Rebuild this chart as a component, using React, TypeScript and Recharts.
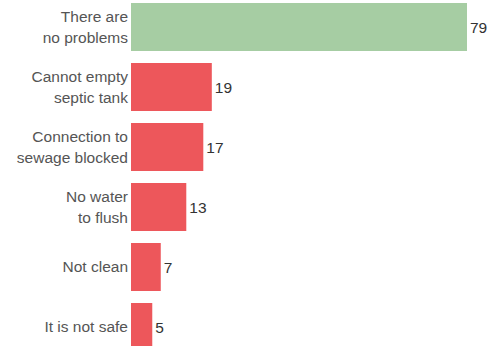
import { BarChart, Bar, XAxis, YAxis, Cell, LabelList } from "recharts";

const categories = [
  "There are\nno problems",
  "Cannot empty\nseptic tank",
  "Connection to\nsewage blocked",
  "No water\nto flush",
  "Not clean",
  "It is not safe",
];
const counts = [79, 19, 17, 13, 7, 5];
const barColors = ["#a6cda3", "#ed575b", "#ed575b", "#ed575b", "#ed575b", "#ed575b"];

const data = categories.map((name, i) => ({ name, value: counts[i] }));

const FONT = "'Liberation Sans', Arial, sans-serif";
const FS = 15.5;
const LH = 20.4;

function CategoryTick(props: any) {
  const { x, y, payload } = props;
  const lines = String(payload.value).split("\n");
  const startDy = -((lines.length - 1) / 2) * LH + FS * 0.35;
  return (
    <text x={x} y={y} textAnchor="end" fill="#555" fontSize={FS} fontFamily={FONT}>
      {lines.map((line, i) => (
        <tspan key={i} x={x} dy={i === 0 ? startDy : LH}>
          {line}
        </tspan>
      ))}
    </text>
  );
}

export default function App() {
  return (
    <div
      style={{
        position: "absolute",
        left: 0,
        top: 0,
        width: 488,
        height: 346,
        overflow: "hidden",
        background: "#fff",
      }}
    >
      <div style={{ position: "absolute", left: 0, top: -3 }}>
        <BarChart
          width={488}
          height={360}
          data={data}
          layout="vertical"
          margin={{ top: 0, right: 21, left: 0, bottom: 0 }}
          barCategoryGap="10%"
        >
          <XAxis type="number" domain={[0, 79]} hide />
          <YAxis
            type="category"
            dataKey="name"
            width={131}
            axisLine={false}
            tickLine={false}
            tickSize={0}
            tickMargin={3}
            interval={0}
            tick={<CategoryTick />}
          />
          <Bar dataKey="value" isAnimationActive={false}>
            {data.map((d, i) => (
              <Cell key={d.name} fill={barColors[i]} />
            ))}
            <LabelList
              dataKey="value"
              position="right"
              offset={3}
              fill="#333"
              fontSize={FS}
              fontFamily={FONT}
            />
          </Bar>
        </BarChart>
      </div>
    </div>
  );
}
